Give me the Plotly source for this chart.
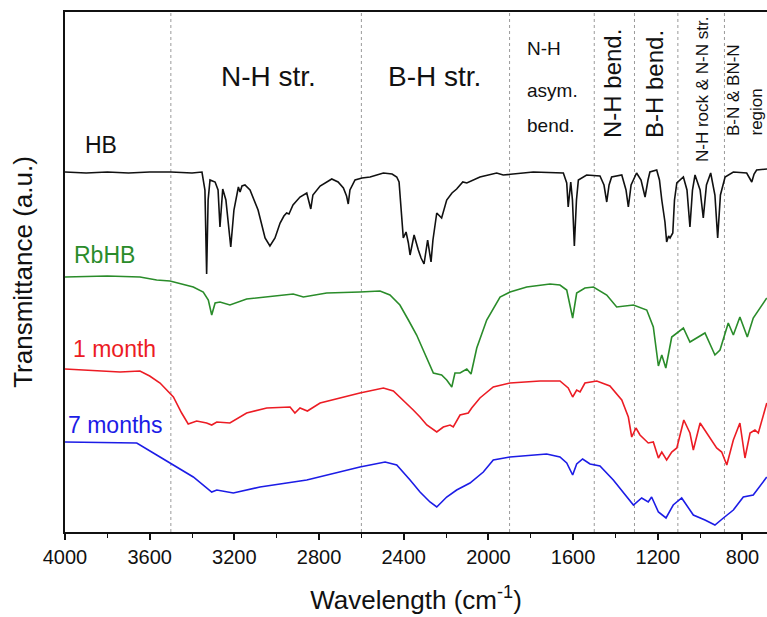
import plotly.graph_objects as go

# ---------------- data (wavenumber cm^-1, transmittance a.u.) ----------------
hb_wn = [4000, 3900, 3800, 3700, 3600, 3500, 3400, 3353, 3339, 3331, 3324, 3315, 3291, 3277, 3268, 3261,
         3255, 3240, 3217, 3202, 3181, 3173, 3164, 3150, 3126, 3088, 3055, 3032, 3008, 2984, 2966, 2953,
         2942, 2923, 2890, 2858, 2850, 2839, 2829, 2811, 2795, 2740, 2710, 2685, 2670, 2662, 2654, 2630,
         2597, 2559, 2496, 2455, 2433, 2422, 2413, 2402, 2389, 2378, 2370, 2351, 2331, 2318, 2304, 2287,
         2271, 2262, 2244, 2221, 2197, 2172, 2150, 2121, 2102, 2040, 1961, 1930, 1788, 1646, 1630, 1623,
         1611, 1603, 1594, 1584, 1575, 1536, 1473, 1454, 1441, 1430, 1418, 1370, 1350, 1339, 1326, 1300,
         1279, 1260, 1246, 1237, 1205, 1192, 1181, 1166, 1158, 1149, 1142, 1129, 1121, 1110, 1079, 1062,
         1048, 1036, 1024, 1000, 985, 970, 950, 930, 917, 904, 882, 843, 780, 767, 756, 745, 733, 684]
hb_t = [360, 359, 360, 359, 360, 360, 359, 360, 342, 258, 332, 352, 350, 342, 305, 332,
        343, 332, 285, 322, 345, 340, 346, 347, 342, 322, 294, 286, 294, 309, 316, 319,
        318, 327, 335, 339, 332, 323, 337, 342, 346, 353, 350, 344, 336, 328, 342, 352,
        354, 355, 359, 358, 355, 350, 327, 294, 300, 289, 277, 297, 282, 274, 268, 292,
        270, 292, 319, 314, 332, 339, 343, 350, 349, 355, 359, 357, 360, 359, 349, 325,
        350, 332, 286, 332, 352, 357, 356, 347, 330, 347, 355, 357, 342, 325, 347, 359,
        352, 335, 352, 360, 362, 352, 332, 310, 290, 296, 294, 299, 332, 349, 355, 342,
        305, 342, 357, 342, 314, 347, 359, 337, 294, 337, 355, 360, 359, 354, 350, 358, 362, 363]

rbhb_wn = [4000, 3800, 3646, 3567, 3504, 3394, 3347, 3323, 3307, 3291, 3268, 3221, 3142, 3016, 2922, 2874,
           2764, 2607, 2512, 2465, 2418, 2378, 2339, 2308, 2260, 2221, 2197, 2173, 2158, 2134, 2102, 2082,
           2055, 2008, 1945, 1898, 1819, 1709, 1662, 1630, 1602, 1583, 1544, 1504, 1441, 1394, 1315, 1252,
           1221, 1197, 1181, 1162, 1134, 1079, 1048, 977, 930, 906, 867, 843, 812, 777, 749, 685]
rbhb_t = [255, 256, 255, 252, 251, 245, 240, 232, 217, 229, 230, 227, 233, 236, 238, 235,
          239, 240, 241, 237, 227, 212, 197, 182, 159, 157, 152, 145, 159, 159, 163, 158,
          184, 212, 235, 240, 245, 248, 247, 242, 214, 239, 244, 245, 237, 225, 227, 222,
          205, 166, 177, 164, 195, 204, 190, 199, 177, 182, 209, 197, 215, 195, 214, 234]

m1_wn = [4000, 3740, 3646, 3600, 3551, 3488, 3449, 3418, 3378, 3331, 3307, 3283, 3221, 3142, 3047, 2937, 2914,
         2890, 2855, 2795, 2607, 2496, 2449, 2402, 2355, 2323, 2291, 2244, 2213, 2181, 2166, 2134, 2095,
         2079, 2040, 1977, 1898, 1756, 1662, 1623, 1602, 1583, 1567, 1544, 1488, 1426, 1370, 1339, 1323,
         1303, 1284, 1245, 1221, 1197, 1181, 1158, 1134, 1110, 1077, 1048, 1032, 1000, 969, 922, 898,
         874, 843, 812, 788, 764, 741, 725, 685]
m1_t = [163, 160, 161, 156, 149, 135, 119, 108, 111, 109, 107, 110, 109, 119, 124, 125, 119,
        124, 121, 129, 139, 144, 141, 132, 122, 115, 107, 100, 105, 107, 105, 117, 119,
        124, 134, 145, 149, 151, 151, 144, 135, 142, 140, 149, 151, 146, 132, 115, 95,
        104, 97, 89, 90, 74, 80, 72, 80, 84, 112, 99, 82, 109, 99, 84, 80,
        67, 92, 109, 74, 99, 102, 99, 129]

m7_wn = [4000, 3661, 3567, 3488, 3394, 3307, 3283, 3205, 3079, 2858, 2607, 2488, 2433, 2370, 2323, 2276,
         2244, 2197, 2150, 2087, 2055, 2024, 1977, 1898, 1725, 1662, 1630, 1602, 1583, 1555, 1520, 1473,
         1410, 1315, 1276, 1245, 1229, 1197, 1161, 1127, 1087, 1032, 977, 930, 890, 843, 796, 749, 685]
m7_t = [90, 89, 77, 67, 55, 40, 42, 39, 45, 52, 65, 70, 67, 52, 40, 30,
        25, 35, 42, 49, 55, 60, 72, 75, 78, 75, 69, 57, 68, 73, 68, 66,
        52, 27, 34, 30, 35, 20, 14, 27, 34, 17, 12, 7, 14, 22, 35, 37, 55]

names = ["HB", "RbHB", "1 month", "7 months"]
colors = ["#111111", "#2a8c2a", "#ec1c24", "#1c1ce6"]
series_wn = [hb_wn, rbhb_wn, m1_wn, m7_wn]
series_t = [hb_t, rbhb_t, m1_t, m7_t]

region_lines = [3500, 2600, 1900, 1500, 1310, 1105, 885]
x_tick_vals = [4000, 3600, 3200, 2800, 2400, 2000, 1600, 1200, 800]

# ---------------- figure ----------------
W, H = 767, 617
L, R, T, B = 65, 0, 12, 85
pw, ph = W - L - R, H - T - B
FONT = "Liberation Sans, Arial, sans-serif"


def px(x):
    return (x - L) / pw


def py(y):
    return (H - B - y) / ph


fig = go.Figure()
for wn, t, c, n in zip(series_wn, series_t, colors, names):
    fig.add_trace(go.Scatter(x=wn, y=t, mode="lines", name=n,
                             line=dict(color=c, width=1.6), showlegend=False))

for xv in region_lines:
    fig.add_shape(type="line", xref="x", yref="paper", x0=xv, x1=xv, y0=0, y1=1,
                  line=dict(color="#9a9a9a", width=1, dash="3px,3px"), layer="below")

ann = []
# series labels
for text, c, x, y in [("HB", colors[0], 83, 145), ("RbHB", colors[1], 72, 255),
                      ("1 month", colors[2], 71, 349), ("7 months", colors[3], 66, 425)]:
    ann.append(dict(text=text, x=px(x), y=py(y), xanchor="left", yanchor="middle",
                    font=dict(size=23, color=c, family=FONT)))
# region labels
ann.append(dict(text="N-H str.", x=px(268), y=py(76), xanchor="center", yanchor="middle",
                font=dict(size=28, color="#111", family=FONT)))
ann.append(dict(text="B-H str.", x=px(434), y=py(76), xanchor="center", yanchor="middle",
                font=dict(size=28, color="#111", family=FONT)))
for text, y in [("N-H", 49), ("asym.", 90), ("bend.", 125)]:
    ann.append(dict(text=text, x=px(525), y=py(y), xanchor="left", yanchor="middle",
                    font=dict(size=19, color="#111", family=FONT)))
for text, x, yc, size in [("N-H bend.", 613, 84, 24), ("B-H bend.", 655, 84, 24),
                          ("N-H rock & N-N str.", 702, 90, 17)]:
    ann.append(dict(text=text, x=px(x), y=py(yc), xanchor="center", yanchor="middle",
                    textangle=-90, font=dict(size=size, color="#111", family=FONT)))
for text, x in [("B-N & BN-N", 733), ("region", 756)]:
    ann.append(dict(text=text, x=px(x), y=py(138), xanchor="center", yanchor="bottom",
                    textangle=-90, font=dict(size=17, color="#111", family=FONT)))
for a in ann:
    a.update(xref="paper", yref="paper", showarrow=False)

fig.update_layout(
    width=W, height=H,
    margin=dict(l=L, r=R, t=T, b=B, pad=0),
    paper_bgcolor="white", plot_bgcolor="white",
    font=dict(family=FONT, color="#111"),
    annotations=ann,
    xaxis=dict(range=[4000, 684], tickmode="array", tickvals=x_tick_vals,
               ticks="outside", ticklen=6, tickwidth=1.5, tickcolor="#111",
               minor=dict(dtick=200, tick0=0, ticks="outside", ticklen=4, tickwidth=1.2, tickcolor="#111"),
               showline=True, linecolor="#111", linewidth=1.5, mirror=True,
               showgrid=False, zeroline=False,
               tickfont=dict(size=20, color="#111", family=FONT),
               title=dict(text="Wavelength (cm<sup>-1</sup>)", font=dict(size=26, color="#111", family=FONT),
                          standoff=24)),
    yaxis=dict(range=[0, 520], showticklabels=False, ticks="", showgrid=False, zeroline=False,
               showline=True, linecolor="#111", linewidth=1.5,
               title=dict(text="Transmittance (a.u.)", font=dict(size=26, color="#111", family=FONT),
                          standoff=23)),
)

fig.write_html("out.html")
